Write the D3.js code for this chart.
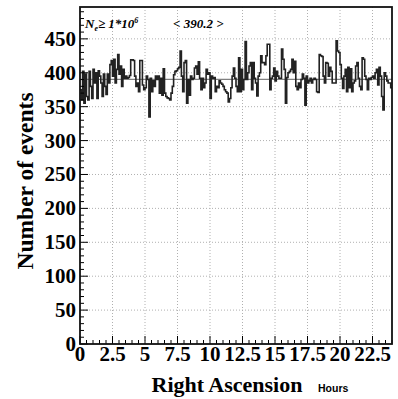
<!DOCTYPE html>
<html><head><meta charset="utf-8">
<script src="https://cdn.jsdelivr.net/npm/d3@7"></script>
<style>body{margin:0;background:#fff}svg{display:block}</style>
</head><body>
<script>
// Histogram counts, 0.1-hour bins from 0 to 24 h
const counts_00_06 = [375,360,402,355,398,365,360,402,380,362,405,385,400,362,403,395,385,365,398,380,
  368,398,385,412,418,395,420,385,405,427,398,410,380,405,392,395,392,393,396,419,
  419,418,395,380,385,372,418,418,382,375,378,395,390,335,392,372,388,380,395,390];
const counts_06_12 = [395,370,392,367,406,370,365,363,362,360,370,380,397,402,403,406,408,432,395,372,
  415,418,355,390,367,395,390,392,407,410,398,416,392,375,392,378,385,405,398,400,
  362,395,392,393,372,380,378,388,385,383,380,375,372,370,357,362,378,395,407,392];
const counts_12_18 = [380,372,422,372,405,375,390,446,390,400,410,415,375,415,392,385,366,395,400,425,
  415,415,412,425,442,442,375,392,395,407,388,402,395,392,392,435,420,405,355,393,
  400,402,405,420,400,417,380,375,385,378,390,398,392,352,395,385,388,392,385,390];
const counts_18_24 = [392,390,372,371,427,425,424,395,385,415,414,395,408,402,385,385,385,447,432,430,
  412,392,377,395,405,372,408,378,406,372,385,388,410,415,392,380,375,422,420,395,
  390,375,392,390,393,395,392,400,405,382,408,395,365,345,400,395,388,385,385,378];
const counts = [].concat(counts_00_06, counts_06_12, counts_12_18, counts_18_24);
const binWidth = 0.1;
const meanValue = 390.2;
const xTicks = [0, 2.5, 5, 7.5, 10, 12.5, 15, 17.5, 20, 22.5];
const xTickLabels = ["0", "2.5", "5", "7.5", "10", "12.5", "15", "17.5", "20", "22.5"];
const yTicks = [0, 50, 100, 150, 200, 250, 300, 350, 400, 450];

const W = 398, H = 399;
const svg = d3.select("body").append("svg").attr("width", W).attr("height", H);
const x = d3.scaleLinear().domain([0, 24]).range([80, 392]);
const y = d3.scaleLinear().domain([0, 497]).range([344, 7]);

// grid
const grid = svg.append("g").attr("stroke", "#b0b0b0").attr("stroke-width", 1).attr("stroke-dasharray", "1,2");
grid.selectAll(".gx").data(xTicks.slice(1)).join("line")
  .attr("x1", d => x(d)).attr("x2", d => x(d)).attr("y1", y(0)).attr("y2", y(497));
grid.selectAll(".gy").data(yTicks.slice(1)).join("line")
  .attr("y1", d => y(d)).attr("y2", d => y(d)).attr("x1", x(0)).attr("x2", x(24));

// mean line
svg.append("line").attr("x1", x(0)).attr("x2", x(24)).attr("y1", y(meanValue)).attr("y2", y(meanValue))
  .attr("stroke", "#808080").attr("stroke-width", 1.2);

// histogram step line
const pts = [];
counts.forEach((c, i) => { pts.push([i * binWidth, c]); pts.push([(i + 1) * binWidth, c]); });
svg.append("path").datum(pts)
  .attr("d", d3.line().x(d => x(d[0])).y(d => y(d[1])))
  .attr("fill", "none").attr("stroke", "#222").attr("stroke-width", 1.6);

// axes (ticks inside)
const xMinor = d3.range(0, 24.01, 0.5);
const yMinor = d3.range(0, 497, 10);
const axG = svg.append("g").attr("stroke", "#000");
axG.selectAll(".xm").data(xMinor).join("line")
  .attr("x1", d => x(d)).attr("x2", d => x(d)).attr("y1", y(0)).attr("y2", d => y(0) - (xTicks.includes(d) ? 8 : 4)).attr("stroke-width", 1);
axG.selectAll(".ym").data(yMinor).join("line")
  .attr("y1", d => y(d)).attr("y2", d => y(d)).attr("x1", x(0)).attr("x2", d => x(0) + (yTicks.includes(d) ? 8 : 4)).attr("stroke-width", 1);

// frame
svg.append("rect").attr("x", x(0)).attr("y", y(497)).attr("width", x(24) - x(0)).attr("height", y(0) - y(497))
  .attr("fill", "none").attr("stroke", "#111").attr("stroke-width", 1.8);

const serif = "'Liberation Serif','DejaVu Serif',serif";
// tick labels
svg.selectAll(".yl").data(yTicks).join("text")
  .attr("x", 76).attr("y", d => y(d) + 7).attr("text-anchor", "end")
  .attr("font-family", serif).attr("font-weight", "bold").attr("font-size", 21).text(d => d);
svg.selectAll(".xl").data(xTicks).join("text")
  .attr("x", d => x(d)).attr("y", 361).attr("text-anchor", "middle")
  .attr("font-family", serif).attr("font-weight", "bold").attr("font-size", 21).text((d, i) => xTickLabels[i]);

// titles
svg.append("text").attr("transform", "translate(33,181) rotate(-90)").attr("text-anchor", "middle")
  .attr("font-family", serif).attr("font-weight", "bold").attr("font-size", 23.5).text("Number of events");
svg.append("text").attr("x", 227).attr("y", 392).attr("text-anchor", "middle")
  .attr("font-family", serif).attr("font-weight", "bold").attr("font-size", 22).text("Right Ascension");
svg.append("text").attr("x", 318).attr("y", 392)
  .attr("font-family", "'Liberation Sans',Arial,sans-serif").attr("font-weight", "bold").attr("font-size", 10.5).text("Hours");

// header annotations
const t1 = svg.append("text").attr("x", 85).attr("y", 28)
  .attr("font-family", serif).attr("font-weight", "bold").attr("font-style", "italic").attr("font-size", 13);
t1.append("tspan").text("N");
t1.append("tspan").attr("font-size", 8).attr("dy", 3).text("e");
t1.append("tspan").attr("dy", -3).text("\u2265 1*10");
t1.append("tspan").attr("font-size", 8).attr("dy", -5).text("6");
svg.append("text").attr("x", 173).attr("y", 28)
  .attr("font-family", serif).attr("font-weight", "bold").attr("font-style", "italic").attr("font-size", 13)
  .text("< " + meanValue + " >");
</script>
</body></html>
